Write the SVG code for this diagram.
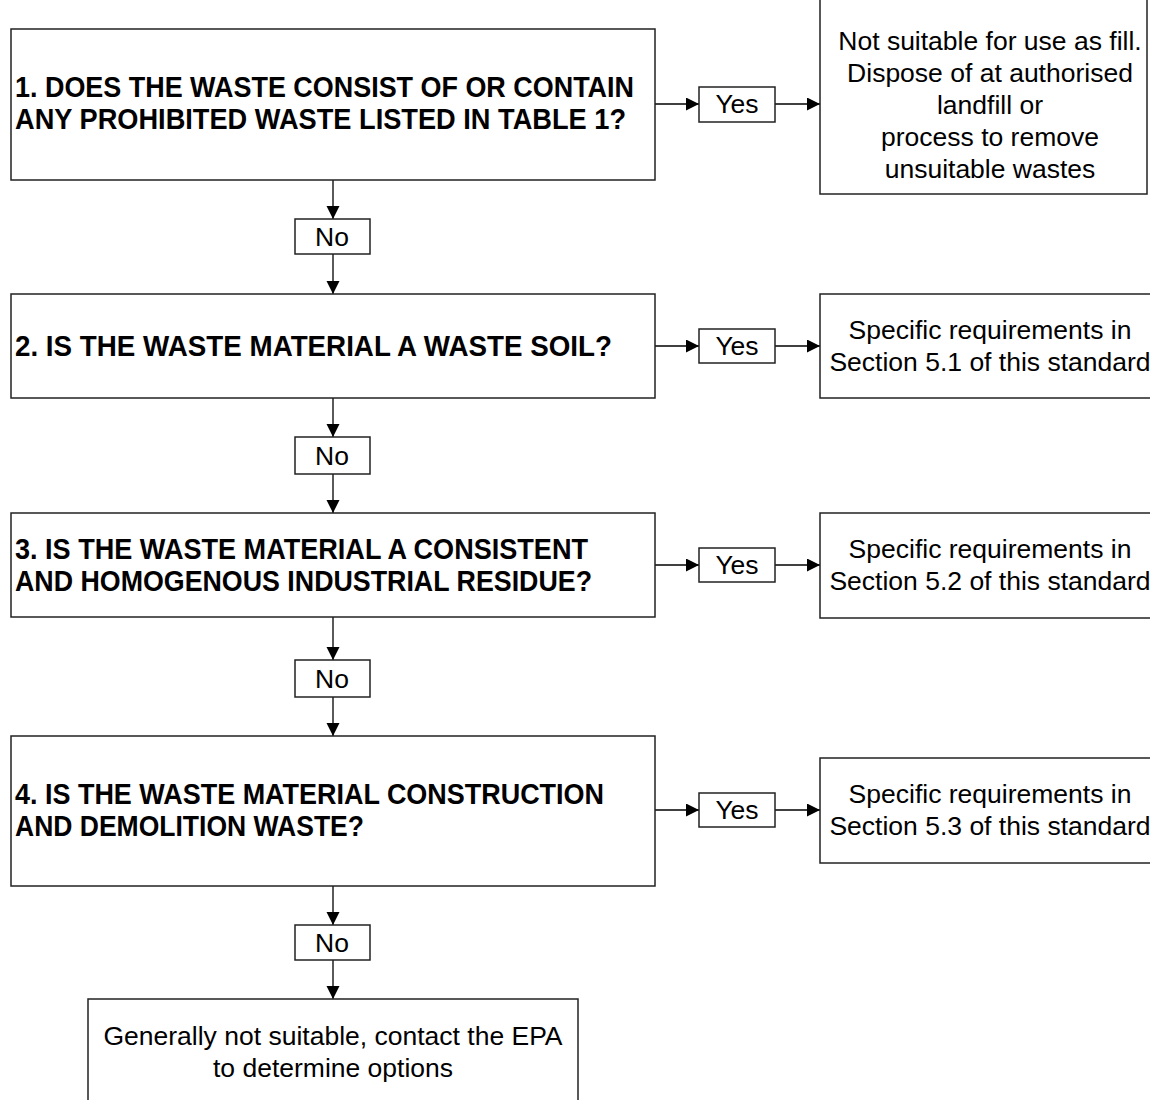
<svg xmlns="http://www.w3.org/2000/svg" width="1150" height="1100" viewBox="0 0 1150 1100">
<style>
.box{fill:#fff;stroke:#222;stroke-width:1.5}
.q{font-family:"Liberation Sans",Arial,sans-serif;font-weight:bold;font-size:29px;fill:#000}
.t{font-family:"Liberation Sans",Arial,sans-serif;font-size:26.5px;fill:#000;text-anchor:middle}
.c{stroke:#000;stroke-width:1.3;fill:none;marker-end:url(#ah)}
</style>
<defs>
<marker id="ah" markerUnits="userSpaceOnUse" markerWidth="14" markerHeight="14" refX="13" refY="6.5" orient="auto">
<path d="M0,0 L13,6.5 L0,13 z" fill="#000"/>
</marker>
</defs>
<rect width="1150" height="1100" fill="#fff"/>
<g id="connectors">
<path class="c" d="M655,104 H699"/>
<path class="c" d="M775,104 H820"/>
<path class="c" d="M333,180 V219"/>
<path class="c" d="M333,254 V294"/>
<path class="c" d="M655,346 H699"/>
<path class="c" d="M775,346 H820"/>
<path class="c" d="M333,398 V437"/>
<path class="c" d="M333,474 V513"/>
<path class="c" d="M655,565 H699"/>
<path class="c" d="M775,565 H820"/>
<path class="c" d="M333,617 V660"/>
<path class="c" d="M333,697 V736"/>
<path class="c" d="M655,810 H699"/>
<path class="c" d="M775,810 H820"/>
<path class="c" d="M333,886 V925"/>
<path class="c" d="M333,960 V999"/>
</g>
<g id="q1">
<rect class="box" x="11" y="29" width="644" height="151"/>
<text class="q" x="15" y="97" textLength="619" lengthAdjust="spacingAndGlyphs">1. DOES THE WASTE CONSIST OF OR CONTAIN</text>
<text class="q" x="15" y="129" textLength="611" lengthAdjust="spacingAndGlyphs">ANY PROHIBITED WASTE LISTED IN TABLE 1?</text>
</g>
<g id="yes1">
<rect class="box" x="699" y="87" width="76" height="35"/>
<text class="t" x="737" y="113">Yes</text>
</g>
<g id="r1">
<rect class="box" x="820" y="-2" width="327" height="196"/>
<text class="t" x="990" y="50">Not suitable for use as fill.</text>
<text class="t" x="990" y="82">Dispose of at authorised</text>
<text class="t" x="990" y="114">landfill or</text>
<text class="t" x="990" y="146">process to remove</text>
<text class="t" x="990" y="178">unsuitable wastes</text>
</g>
<g id="no1">
<rect class="box" x="295" y="219" width="75" height="35"/>
<text class="t" x="332" y="246">No</text>
</g>
<g id="q2">
<rect class="box" x="11" y="294" width="644" height="104"/>
<text class="q" x="15" y="356" textLength="597" lengthAdjust="spacingAndGlyphs">2. IS THE WASTE MATERIAL A WASTE SOIL?</text>
</g>
<g id="yes2">
<rect class="box" x="699" y="329" width="76" height="34"/>
<text class="t" x="737" y="355">Yes</text>
</g>
<g id="r2">
<rect class="box" x="820" y="294" width="340" height="104"/>
<text class="t" x="990" y="339">Specific requirements in</text>
<text class="t" x="990" y="371">Section 5.1 of this standard</text>
</g>
<g id="no2">
<rect class="box" x="295" y="437" width="75" height="37"/>
<text class="t" x="332" y="465">No</text>
</g>
<g id="q3">
<rect class="box" x="11" y="513" width="644" height="104"/>
<text class="q" x="15" y="559" textLength="573" lengthAdjust="spacingAndGlyphs">3. IS THE WASTE MATERIAL A CONSISTENT</text>
<text class="q" x="15" y="591" textLength="577" lengthAdjust="spacingAndGlyphs">AND HOMOGENOUS INDUSTRIAL RESIDUE?</text>
</g>
<g id="yes3">
<rect class="box" x="699" y="548" width="76" height="34"/>
<text class="t" x="737" y="574">Yes</text>
</g>
<g id="r3">
<rect class="box" x="820" y="513" width="340" height="105"/>
<text class="t" x="990" y="558">Specific requirements in</text>
<text class="t" x="990" y="590">Section 5.2 of this standard</text>
</g>
<g id="no3">
<rect class="box" x="295" y="660" width="75" height="37"/>
<text class="t" x="332" y="688">No</text>
</g>
<g id="q4">
<rect class="box" x="11" y="736" width="644" height="150"/>
<text class="q" x="15" y="804" textLength="589" lengthAdjust="spacingAndGlyphs">4. IS THE WASTE MATERIAL CONSTRUCTION</text>
<text class="q" x="15" y="836" textLength="349" lengthAdjust="spacingAndGlyphs">AND DEMOLITION WASTE?</text>
</g>
<g id="yes4">
<rect class="box" x="699" y="793" width="76" height="34"/>
<text class="t" x="737" y="819">Yes</text>
</g>
<g id="r4">
<rect class="box" x="820" y="758" width="340" height="105"/>
<text class="t" x="990" y="803">Specific requirements in</text>
<text class="t" x="990" y="835">Section 5.3 of this standard</text>
</g>
<g id="no4">
<rect class="box" x="295" y="925" width="75" height="35"/>
<text class="t" x="332" y="952">No</text>
</g>
<g id="end">
<rect class="box" x="88" y="999" width="490" height="110"/>
<text class="t" x="333" y="1045">Generally not suitable, contact the EPA</text>
<text class="t" x="333" y="1077">to determine options</text>
</g>
</svg>
